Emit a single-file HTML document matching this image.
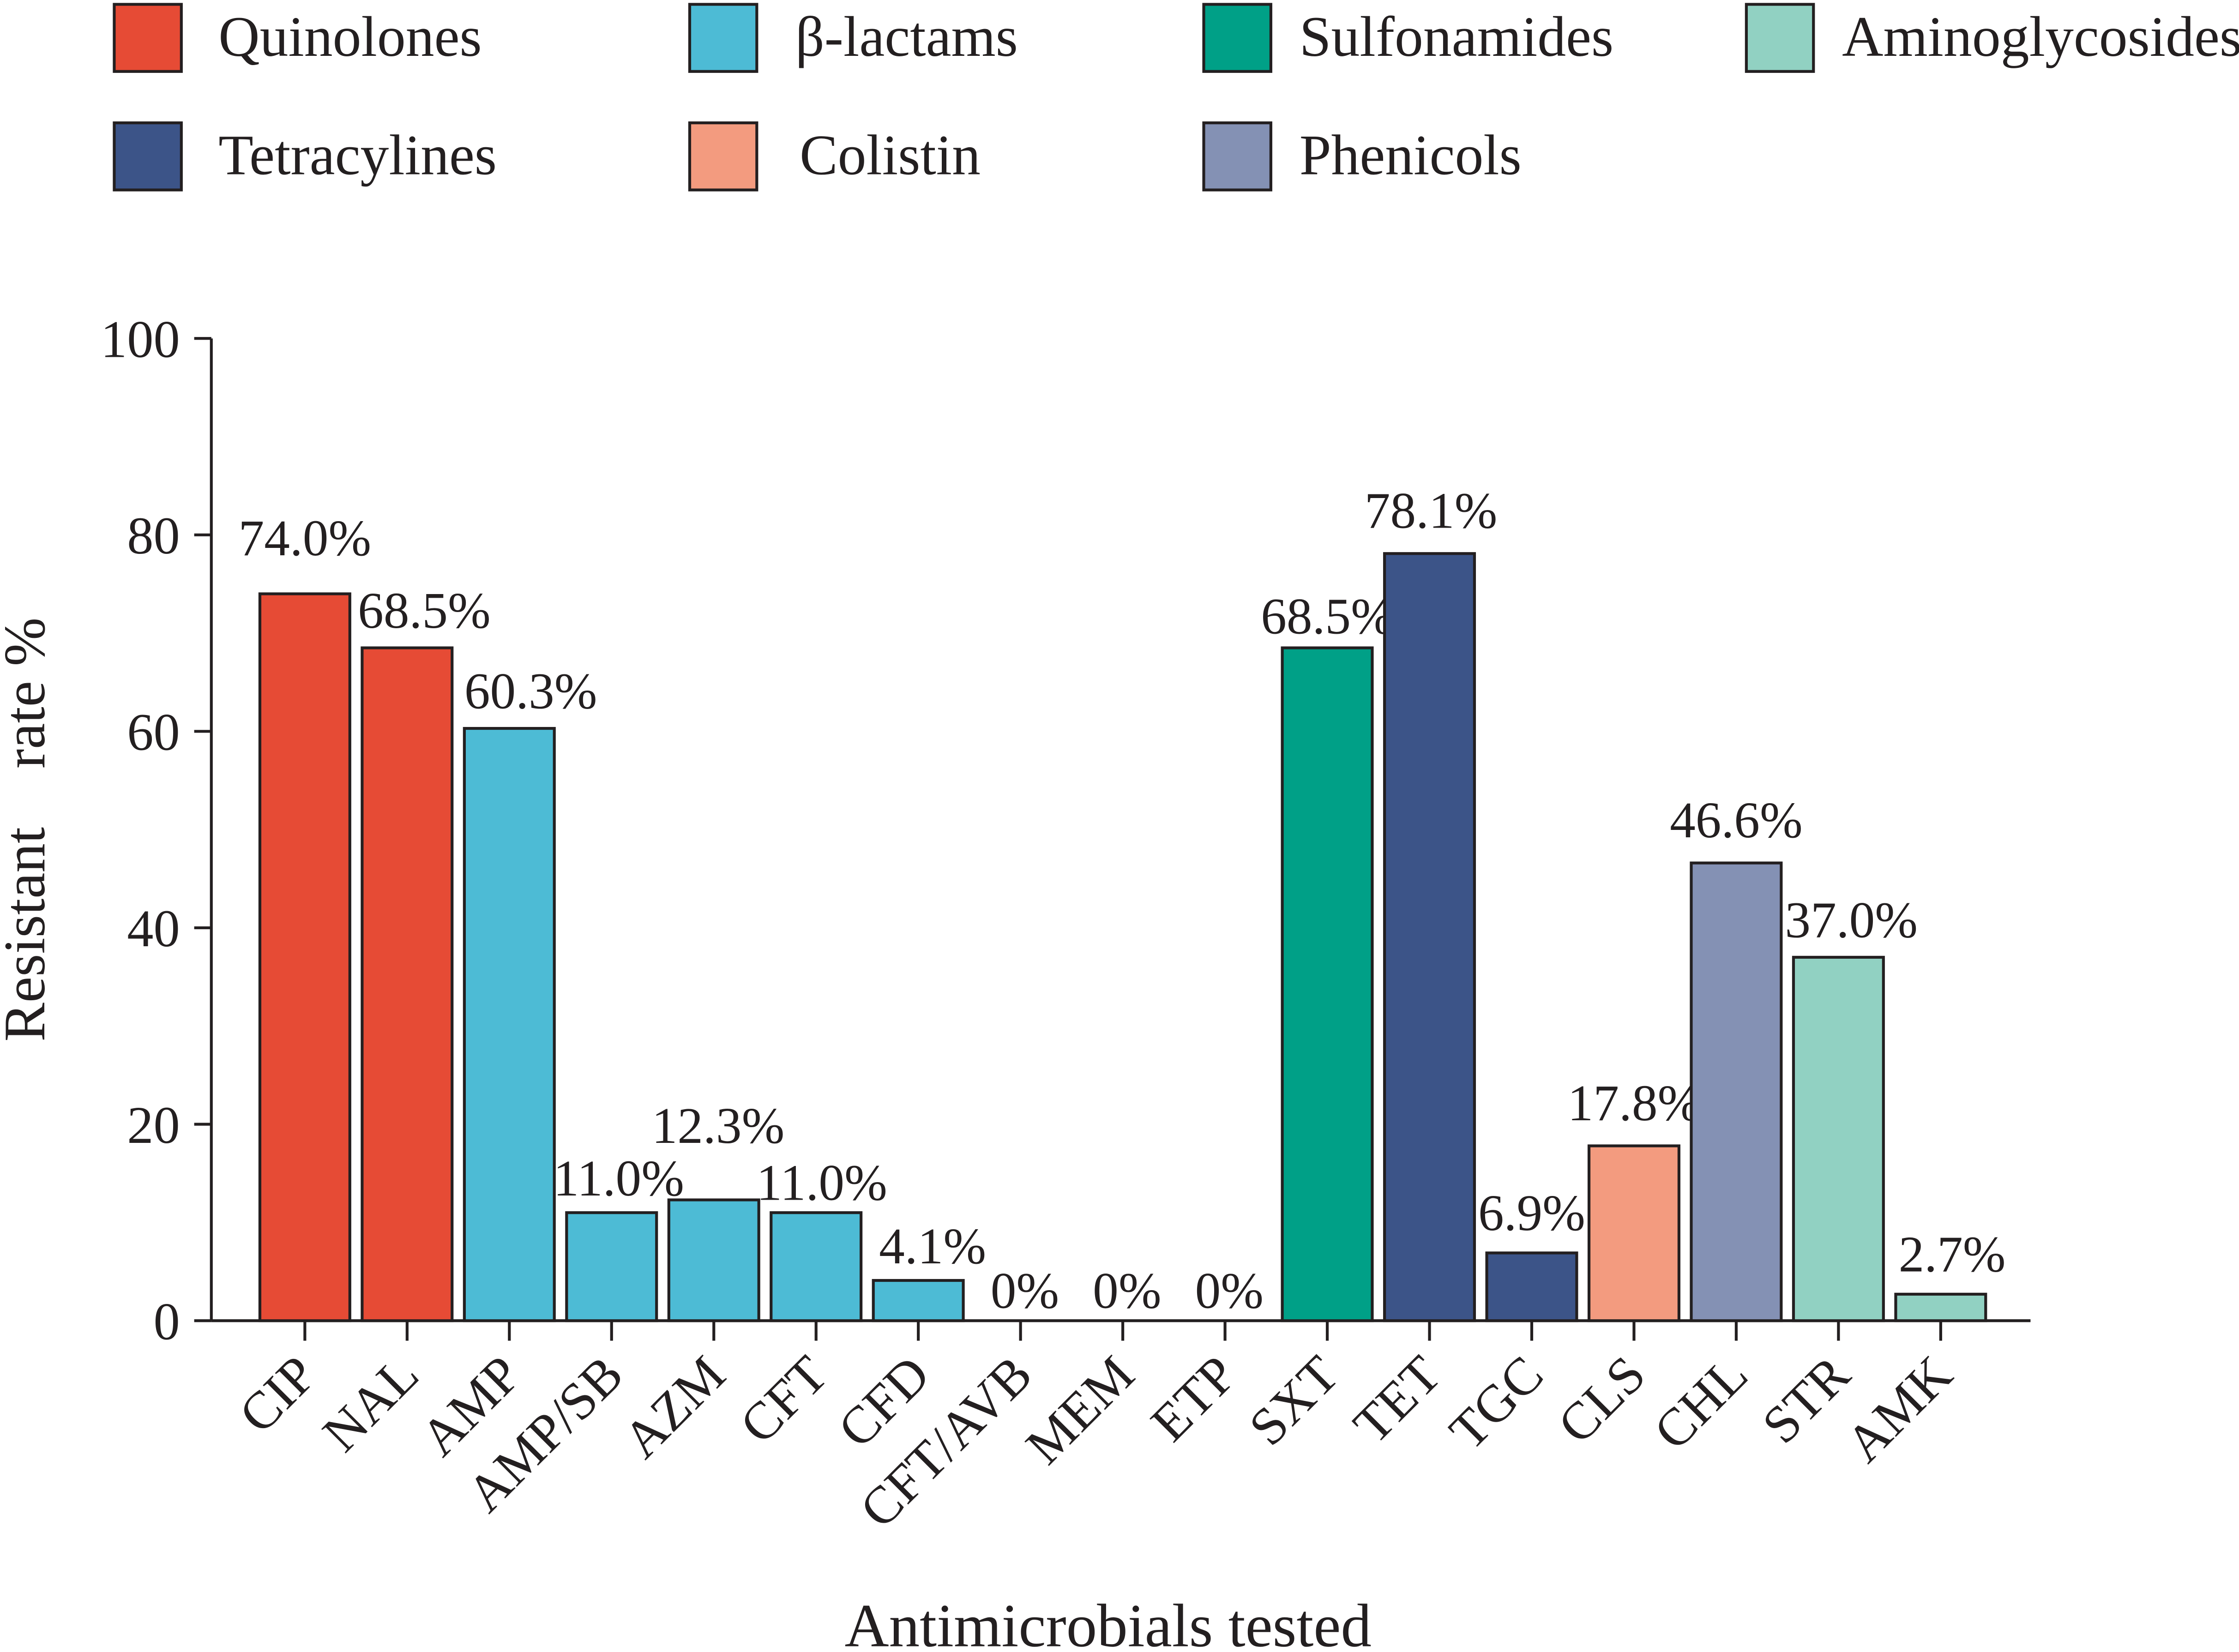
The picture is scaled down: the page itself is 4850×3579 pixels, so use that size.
<!DOCTYPE html>
<html><head><meta charset="utf-8"><style>
html,body{margin:0;padding:0;background:#fff}
svg{display:block}
text{font-family:"Liberation Serif",serif;fill:#231f20}
</style></head><body>
<svg id="chart" width="4850" height="3579" viewBox="0 0 1568 1157" xmlns="http://www.w3.org/2000/svg">
<g id="legend"></g>
<g id="plot"></g>
</svg>
<script>
const categories=["CIP","NAL","AMP","AMP/SB","AZM","CFT","CFD","CFT/AVB","MEM","ETP","SXT","TET","TGC","CLS","CHL","STR","AMK"];
const values=[74.0,68.5,60.3,11.0,12.3,11.0,4.1,0,0,0,68.5,78.1,6.9,17.8,46.6,37.0,2.7];
const valueLabels=["74.0%","68.5%","60.3%","11.0%","12.3%","11.0%","4.1%","0%","0%","0%","68.5%","78.1%","6.9%","17.8%","46.6%","37.0%","2.7%"];
const groups=[0,0,1,1,1,1,1,1,1,1,2,4,4,5,6,3,3];
const groupNames=["Quinolones","β-lactams","Sulfonamides","Aminoglycosides","Tetracylines","Colistin","Phenicols"];
const groupColors=["#E64B35","#4DBBD5","#00A087","#91D1C2","#3C5488","#F39B7F","#8491B4"];
const yTicks=[0,20,40,60,80,100];
const labelDx=[0,12,15,5,3,4,10,3,3,3,0,1,0,0,0,9,8];
const labelDy=[27,14,14,12,40,9,12,9,9,9,10,18,16,18,18,14,16];

const NS="http://www.w3.org/2000/svg";
function mk(tag,attrs,parent,txt){const e=document.createElementNS(NS,tag);for(const k in attrs)e.setAttribute(k,attrs[k]);if(txt!==undefined)e.textContent=txt;parent.appendChild(e);return e;}
const plot=document.getElementById('plot');
const legend=document.getElementById('legend');
const y0=925,y100=237,xL=148,xR=1422;
function yS(v){return y0-(y0-y100)*v/100;}
function xC(i){return 213.5+i*71.6;}
const bw=63;

const legPos=[[80,3],[483,3],[843,3],[1223,3],[80,86],[483,86],[843,86]];
const legTextX=[153,557,910,1290,153,560,910];
groupNames.forEach((n,i)=>{
  const r=mk('rect',{x:legPos[i][0],y:legPos[i][1],width:47,height:47,fill:groupColors[i],stroke:'#231f20','stroke-width':2},legend);
  
  
  const t=mk('text',{x:legTextX[i],y:legPos[i][1]+36,'font-size':40},legend,n);
  
  
});

const ya=mk('line',{x1:xL,y1:y100,x2:xL,y2:y0,stroke:'#231f20','stroke-width':2},plot);


const xa=mk('line',{x1:xL,y1:y0,x2:xR,y2:y0,stroke:'#231f20','stroke-width':2},plot);


yTicks.forEach(v=>{
  mk('line',{x1:xL-12,y1:yS(v),x2:xL,y2:yS(v),stroke:'#231f20','stroke-width':2},plot);
  const t=mk('text',{x:xL-22,y:yS(v)+13,'font-size':37,'text-anchor':'end'},plot,String(v));
  
  
});
const yt=mk('text',{x:0,y:0,'font-size':41,'text-anchor':'middle',style:'white-space:pre',transform:'translate(31,581) rotate(-90)'},plot,'Resistant    rate %');


const xt=mk('text',{x:776,y:1153,'font-size':43,'text-anchor':'middle'},plot,'Antimicrobials tested');



categories.forEach((c,i)=>{
  const cx=xC(i),v=values[i];
  if(v>0){
    const b=mk('rect',{x:cx-bw/2,y:yS(v),width:bw,height:y0-yS(v),fill:groupColors[groups[i]],stroke:'#231f20','stroke-width':2},plot);
    
    
  }
  mk('line',{x1:cx,y1:y0,x2:cx,y2:y0+14,stroke:'#231f20','stroke-width':2},plot);
  const vl=mk('text',{x:cx+labelDx[i],y:yS(v)-labelDy[i],'font-size':36,'text-anchor':'middle'},plot,valueLabels[i]);
  
  
  const tl=mk('text',{x:0,y:0,'font-size':37,'text-anchor':'end',transform:'translate('+(cx+10)+','+(y0+40)+') rotate(-45)'},plot,c);
  
  
});
</script>
</body></html>
